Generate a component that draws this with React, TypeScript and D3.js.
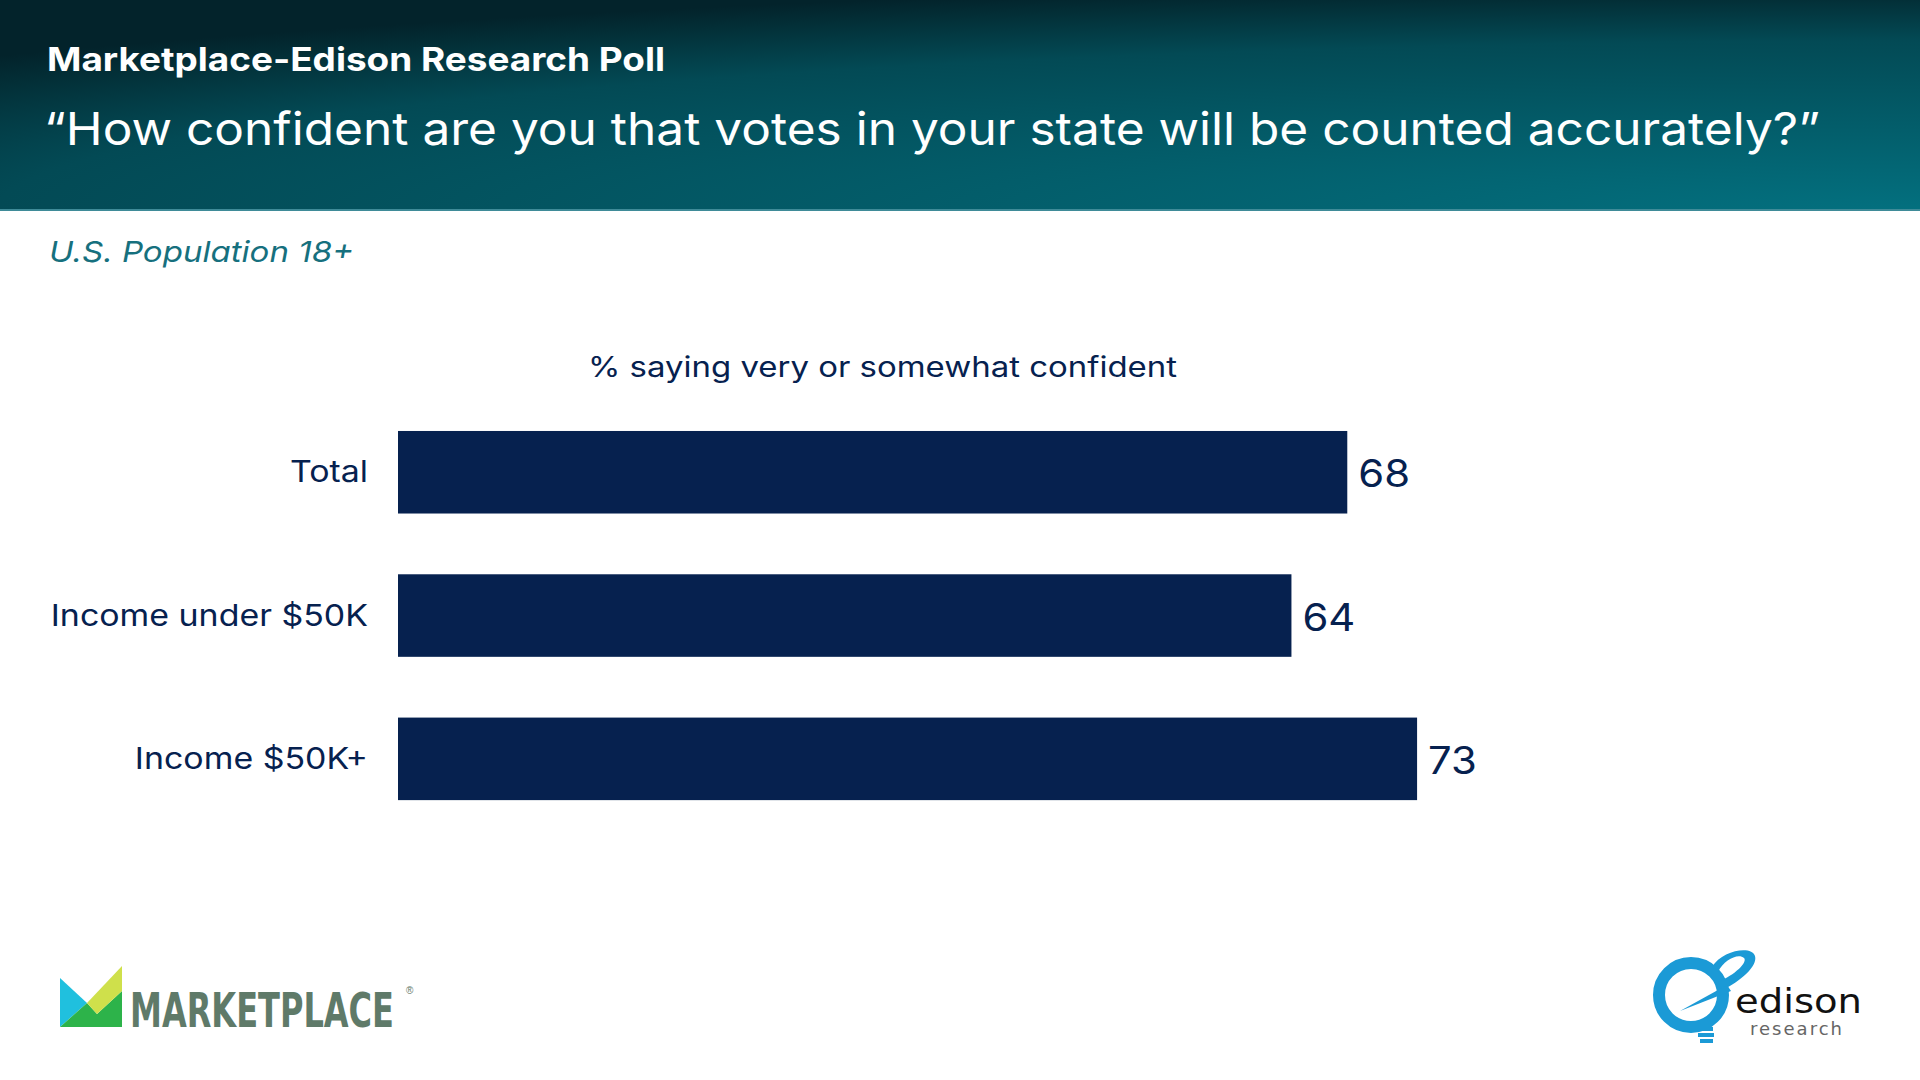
import React, { useEffect, useRef } from "react";
import * as d3 from "d3";

// poll data
const categories = ["Total", "Income under $50K", "Income $50K+"];
const confident = [68, 64, 73];

const pollTitle = "Marketplace-Edison Research Poll";
const question = "\u201CHow confident are you that votes in your state will be counted accurately?\u201D";
const population = "U.S. Population 18+";
const measure = "% saying very or somewhat confident";

const W = 1920;
const H = 1080;
const navy = "#06214f";
const font = "Inter, 'Open Sans', sans-serif";

const App = () => {
  const svgRef = useRef<SVGSVGElement>(null);

  const x = d3.scaleLinear().domain([0, 100]).range([398, 1794]);
  const y = d3
    .scaleBand<string>()
    .domain(categories)
    .range([400.6, 830.5])
    .paddingInner(0.424)
    .paddingOuter(0.212);

  const rows = categories.map((c, i) => ({ cat: c, val: confident[i] }));

  // Inter is narrower than the slide's font, so widen the bar texts a bit
  useEffect(() => {
    const svg = d3.select(svgRef.current);
    svg.selectAll<SVGTextElement, unknown>("text.wide").each(function () {
      const k = +(this.getAttribute("data-k") || 1.13);
      const len = this.getComputedTextLength();
      d3.select(this)
        .attr("textLength", len * k)
        .attr("lengthAdjust", "spacingAndGlyphs");
    });
  }, []);

  return (
    <svg
      ref={svgRef}
      width={W}
      height={H}
      viewBox={`0 0 ${W} ${H}`}
      style={{ position: "absolute", left: 0, top: 0, background: "#fff" }}
    >
      <defs>
        <radialGradient
          id="head"
          gradientUnits="userSpaceOnUse"
          cx={1920}
          cy={211}
          r={2600}
          gradientTransform="translate(1920,211) scale(1,0.0885) translate(-1920,-211)"
        >
          <stop offset="0" stopColor="#03707f" />
          <stop offset="0.74" stopColor="#034a55" />
          <stop offset="0.92" stopColor="#032f37" />
          <stop offset="1" stopColor="#03232b" />
        </radialGradient>
      </defs>

      {/* header band */}
      <rect x={0} y={0} width={W} height={211} fill="url(#head)" />
      <rect x={0} y={209} width={W} height={2} fill="#3f8b98" />
      <text x={47} y={71} fill="#fff" fontFamily={font} fontWeight={700} fontSize={33}
        textLength={618} lengthAdjust="spacingAndGlyphs">
        {pollTitle}
      </text>
      <text x={44} y={145} fill="#fff" fontFamily={font} fontSize={45}
        textLength={1776} lengthAdjust="spacingAndGlyphs">
        {question}
      </text>

      <text x={49} y={262} fill="#16707e" fontFamily={font} fontStyle="italic" fontSize={29}
        textLength={305} lengthAdjust="spacingAndGlyphs">
        {population}
      </text>

      <text x={588} y={377} fill={navy} fontFamily={font} fontSize={28}
        textLength={589} lengthAdjust="spacingAndGlyphs">
        {measure}
      </text>

      {/* bars */}
      {rows.map((d) => (
        <g key={d.cat}>
          <rect
            x={x(0)}
            y={y(d.cat)}
            width={x(d.val) - x(0)}
            height={y.bandwidth()}
            fill={navy}
          />
          <text
            className="wide"
            data-k="1.13"
            x={x(0) - 30}
            y={(y(d.cat) ?? 0) + y.bandwidth() / 2 + 10}
            textAnchor="end"
            fill={navy}
            fontFamily={font}
            fontSize={30}
          >
            {d.cat}
          </text>
          <text
            className="wide"
            data-k="1.1"
            x={x(d.val) + 11}
            y={(y(d.cat) ?? 0) + y.bandwidth() / 2 + 15}
            fill={navy}
            fontFamily={font}
            fontSize={38}
          >
            {d.val}
          </text>
        </g>
      ))}

      {/* marketplace logo */}
      <g>
        <polygon points="60,978 87,1003 60,1027" fill="#20c0de" />
        <polygon points="60,1027 87,1003 97,1014 122,991 122,1027" fill="#2db34a" />
        <polygon points="87,1003 122,966 122,991 97,1014" fill="#cfe04b" />
        <text x={130} y={0} transform="translate(0,1027) scale(1,1.35)" fill="#5f7a69"
          fontFamily="'DejaVu Sans Condensed', 'Liberation Sans Narrow', sans-serif"
          fontWeight={700} fontSize={36} textLength={264} lengthAdjust="spacingAndGlyphs">
          MARKETPLACE
        </text>
        <text x={406} y={994} fill="#5f7a69" fontFamily="sans-serif" fontSize={10}>®</text>
      </g>

      {/* edison research logo */}
      <g>
        <circle cx={1691} cy={995} r={32} fill="none" stroke="#1b9ad6" strokeWidth={12} />
        <path
          d="M1712,967 C1722,950 1752,945 1755,956 C1758,966 1740,982 1722,990 L1718,982 C1735,975 1748,962 1744,958 C1738,953 1724,960 1718,972 Z"
          fill="#1b9ad6"
        />
        <path d="M1680,1011 L1727,985 L1731,991 Z" fill="#1b9ad6" />
        <path d="M1697,1029 L1713,1029 M1698,1035 L1714,1035 M1700,1041 L1713,1041" stroke="#1b9ad6" strokeWidth={4} />
        <text x={1735} y={1013} fill="#111" fontFamily="'DejaVu Sans', sans-serif" fontSize={34}
          textLength={127} lengthAdjust="spacingAndGlyphs">
          edison
        </text>
        <text x={1750} y={1035} fill="#666" fontFamily="'DejaVu Sans', sans-serif" fontSize={18}
          textLength={92} lengthAdjust="spacing">
          research
        </text>
      </g>
    </svg>
  );
};

export default App;
